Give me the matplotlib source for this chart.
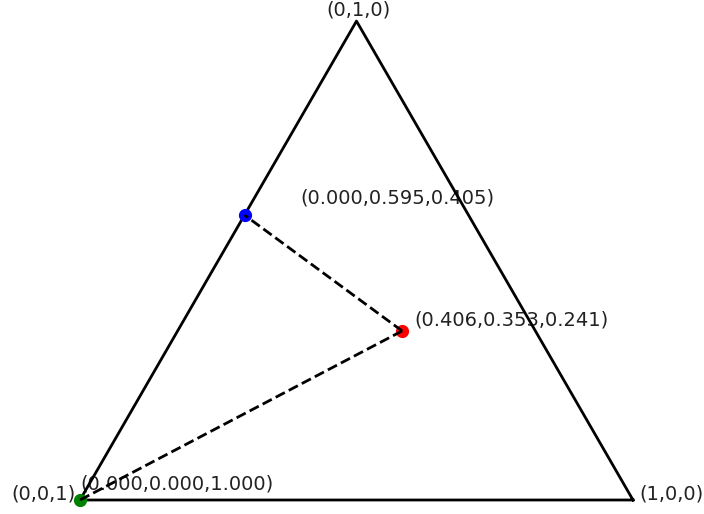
import numpy as np
import matplotlib
matplotlib.use("Agg")
import matplotlib.pyplot as plt

# ternary data (a, b, c)
vertex_labels = ["(1,0,0)", "(0,1,0)", "(0,0,1)"]
vertices = [(1, 0, 0), (0, 1, 0), (0, 0, 1)]
point_names = ["red", "blue", "green"]
points = [(0.406, 0.353, 0.241), (0.000, 0.595, 0.405), (0.000, 0.000, 1.000)]
point_colors = ["red", "blue", "green"]
# dashed connections (indices into points)
links = [(0, 1), (0, 2)]

def tern(p):
    a, b, c = p
    return a + b / 2.0, b * np.sqrt(3) / 2.0

fig = plt.figure(figsize=(7.04, 5.14), dpi=100)
ax = fig.add_axes([0, 0, 1, 1])
s = 553.0
ax.set_xlim(-80 / s, (704 - 80) / s)
ax.set_ylim(-14 / s, (514 - 14) / s)
ax.axis("off")

# triangle
vx = [tern(v)[0] for v in vertices] + [tern(vertices[0])[0]]
vy = [tern(v)[1] for v in vertices] + [tern(vertices[0])[1]]
ax.plot(vx, vy, color="black", lw=2, zorder=2)

# points
for p, col in zip(points, point_colors):
    x, y = tern(p)
    ax.plot(x, y, "o", color=col, ms=8.5, zorder=3)

# dashed lines
for i, j in links:
    x1, y1 = tern(points[i])
    x2, y2 = tern(points[j])
    ax.plot([x1, x2], [y1, y2], "k--", lw=2, zorder=4)

fs = 14
tc = "#222222"
# vertex labels
x, y = tern(vertices[0])
ax.text(x + 6 / s, y + 6 / s, vertex_labels[0], ha="left", va="center", fontsize=fs, color=tc, zorder=1)
x, y = tern(vertices[1])
ax.text(x + 2 / s, y + 11 / s, vertex_labels[1], ha="center", va="center", fontsize=fs, color=tc, zorder=1)
x, y = tern(vertices[2])
ax.text(x - 4 / s, y + 6 / s, vertex_labels[2], ha="right", va="center", fontsize=fs, color=tc, zorder=1)

# point labels
offsets = [(12, 11), (56, 17), (0, 16)]
for p, (dx, dy) in zip(points, offsets):
    x, y = tern(p)
    ax.text(x + dx / s, y + dy / s, "({:.3f},{:.3f},{:.3f})".format(*p),
            ha="left", va="center", fontsize=fs, color=tc, zorder=1)

fig.savefig("out.png", dpi=100)
